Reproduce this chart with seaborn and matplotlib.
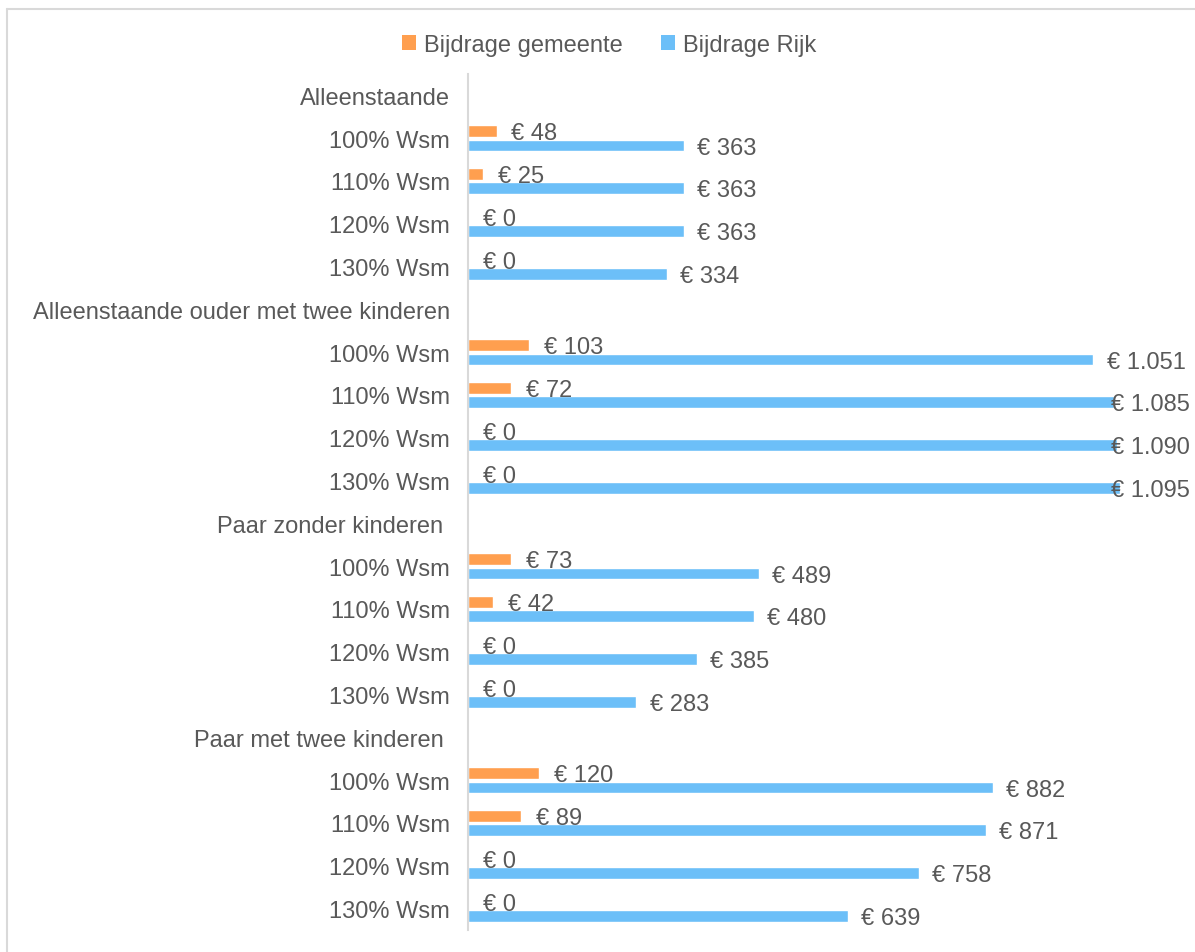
import pandas as pd
import matplotlib
matplotlib.use("Agg")
import matplotlib.pyplot as plt
from matplotlib.lines import Line2D
from matplotlib.patches import Patch
import seaborn as sns

# data
groups = ["Alleenstaande", "Alleenstaande ouder met twee kinderen",
          "Paar zonder kinderen ", "Paar met twee kinderen "]
levels = ["100% Wsm", "110% Wsm", "120% Wsm", "130% Wsm"]
gemeente = [48, 25, 0, 0,
            103, 72, 0, 0,
            73, 42, 0, 0,
            120, 89, 0, 0]
rijk = [363, 363, 363, 334,
        1051, 1085, 1090, 1095,
        489, 480, 385, 283,
        882, 871, 758, 639]
series = ["Bijdrage gemeente", "Bijdrage Rijk"]
colors = ["#FF9F4F", "#6CBFF8"]
grey = "#595959"

# rijen opbouwen: kop + 4 niveaus per groep
row_keys, row_labels, recs = [], [], []
i = 0
for g, grp in enumerate(groups):
    row_keys.append(f"h{g}")
    row_labels.append(grp)
    for lv in levels:
        key = f"r{i:02d}"
        row_keys.append(key)
        row_labels.append(lv)
        recs.append({"row": key, "serie": series[0], "waarde": gemeente[i]})
        recs.append({"row": key, "serie": series[1], "waarde": rijk[i]})
        i += 1
df = pd.DataFrame(recs)

sns.set_style("white")
plt.rcParams["font.family"] = ["Liberation Sans", "DejaVu Sans"]
fs = 17

fig = plt.figure(figsize=(11.95, 9.53), dpi=100)
ax = fig.add_axes([468 / 1195, 1 - 931 / 953, (1150 - 468) / 1195, (931 - 75) / 953])

sns.barplot(data=df, y="row", x="waarde", hue="serie", order=row_keys,
            hue_order=series, palette=colors, saturation=1, orient="h",
            errorbar=None, width=0.68, gap=0.2, legend=False, ax=ax)

ax.set_xlim(0, 1146)
ax.set_ylim(len(row_keys) - 0.5, -0.5)
ax.set_yticks(range(len(row_keys)))
ax.set_yticklabels(row_labels, fontsize=fs, color=grey)
ax.tick_params(axis="y", length=0, pad=13)
ax.set_xticks([])
ax.set_xlabel("")
ax.set_ylabel("")
for s in ["top", "right", "bottom"]:
    ax.spines[s].set_visible(False)
ax.spines["left"].set_color("#D9D9D9")
ax.spines["left"].set_linewidth(1.5)

# waardelabels
def fmt(v):
    return "€ " + f"{v:,}".replace(",", ".")

cap = 1080
for k, key in enumerate(row_keys):
    if key.startswith("h"):
        continue
    j = int(key[1:])
    ax.text(min(gemeente[j] + 25, cap), k - 0.11, fmt(gemeente[j]),
            va="center", ha="left", fontsize=fs, color=grey, clip_on=False)
    ax.text(min(rijk[j] + 22, cap), k + 0.22, fmt(rijk[j]),
            va="center", ha="left", fontsize=fs, color=grey, clip_on=False)

handles = [Patch(facecolor=c, edgecolor="none") for c in colors]
fig.legend(handles, series, loc="center", bbox_to_anchor=(609 / 1195, 1 - 46 / 953),
           ncol=2, frameon=False, fontsize=fs, handlelength=0.6, handleheight=0.6,
           handletextpad=0.35, columnspacing=1.6, labelcolor=grey)

# kaderrand
fig.add_artist(Line2D([7 / 1195, 7 / 1195], [-0.01, 1 - 9.5 / 953],
                      transform=fig.transFigure, color="#D9D9D9", lw=1.5))
fig.add_artist(Line2D([7 / 1195, 1.01], [1 - 9.5 / 953, 1 - 9.5 / 953],
                      transform=fig.transFigure, color="#D9D9D9", lw=1.5))

fig.savefig("out.png", dpi=100)
